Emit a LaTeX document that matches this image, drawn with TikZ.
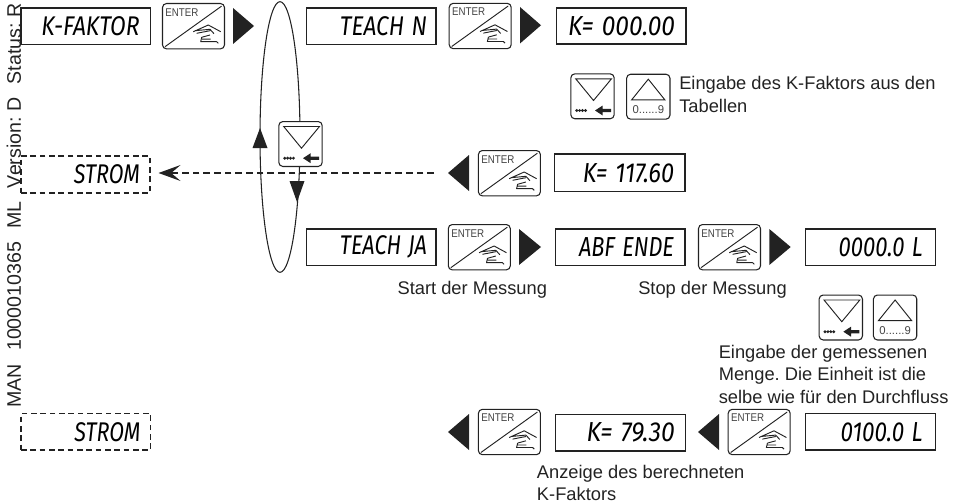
\documentclass[tikz,border=0pt]{standalone}
\usepackage{fontspec}
\setmainfont{Liberation Sans}
\newfontfamily\lcd{Fira Sans}
\usetikzlibrary{arrows.meta,shapes.geometric}
\definecolor{ink}{HTML}{222222}
\definecolor{soft}{HTML}{444444}
\newlength\pxu \setlength\pxu{0.75pt}
\frenchspacing
\tikzset{
  lcdframe/.style={draw=ink,line width=0.8pt,fill=white,inner ysep=0pt,align=right},
  lcddash/.style={lcdframe,dash pattern=on 4.2pt off 2.8pt},
  keyframe/.style={draw=ink,line width=0.8pt,fill=white,rounded corners=3pt,inner sep=0pt},
  keyline/.style={draw=ink,line width=0.7pt},
  keylabel/.style={inner sep=0pt,text=soft,font=\fontsize{8.5pt}{9pt}\selectfont},
  body/.style={inner sep=0pt,anchor=base west,align=left,text=ink,font=\fontsize{13.72pt}{16.6pt}\selectfont},
  flow/.style={fill=ink}
}
% [style], name, x1, y1, x2, y2, text width, right pad, text
\newcommand\lcdbox[9][lcdframe]{%
  \node[#1,minimum width={(#5-#3)*0.75pt},minimum height={(#6-#4)*0.75pt},
        text width={(#5-#3-2*#8)*0.75pt},inner xsep={#8*0.75pt}]
    (#2) at ({(#3+#5)/2},{(#4+#6)/2})
    {\resizebox{#7\pxu}{14.2pt}{\lcd\itshape #9}};}
% name, centre x, centre y
\newcommand\enterkey[3]{%
  \node[keyframe,minimum width=46.5pt,minimum height=34pt] (#1) at (#2,#3) {};
  \begin{scope}[shift={(#2,#3)}]
    \draw[keyline] (-28.5,20.5) -- (28,-20);
    \node[keylabel,anchor=west] (#1t) at (-28.3,-14) {\resizebox{33\pxu}{5.8pt}{ENTER}};
    \draw[keyline,line join=round]
      (-0.2,5.5) -- (14.8,-1.2) -- (27.2,5.5)
      (1.5,4.5) -- (16.5,3.1) -- (20.5,7.5)
      (3.2,7.1) -- (16.5,4.5)
      (8.2,11.1) -- (16.5,8.8)
      (8.2,11.1) -- (7.2,15.5) -- (23.2,15.5) -- (24.8,17.1)
      (8.5,13) -- (17,13);
  \end{scope}}
% name, centre x, centre y
\newcommand\downkey[3]{%
  \node[keyframe,minimum width=32.5pt,minimum height=33.7pt] (#1) at (#2,#3) {};
  \begin{scope}[shift={(#2,#3)}]
    \draw[keyline] (-16.8,-17.5) -- (19,-17.5) -- (1,4.2) -- cycle;
    \fill[ink] (-15.8,14.2) circle (1.6) (-12.9,14.2) circle (1.6)
      (-10,14.2) circle (1.6) (-7.1,14.2) circle (1.6);
    \fill[ink] (2.5,14.2) -- (10.2,9.2) -- (10.2,12.6) -- (18.5,12.6)
      -- (18.5,15.8) -- (10.2,15.8) -- (10.2,19.2) -- cycle;
  \end{scope}}
\newcommand\upkey[3]{%
  \node[keyframe,minimum width=32.5pt,minimum height=33.7pt] (#1) at (#2,#3) {};
  \begin{scope}[shift={(#2,#3)}]
    \draw[keyline] (-16.7,3.2) -- (16.6,3.2) -- (0,-17.5) -- cycle;
    \node[keylabel] (#1t) at (0,13.2) {0......9};
  \end{scope}}
\newcommand\rtri[4]{\fill[flow] (#1,#3) -- (#2,{(#3+#4)/2}) -- (#1,#4) -- cycle;}
\newcommand\ltri[4]{\fill[flow] (#2,#3) -- (#1,{(#3+#4)/2}) -- (#2,#4) -- cycle;}
\begin{document}
\begin{tikzpicture}[x=0.75pt,y=-0.75pt]
\useasboundingbox (0,0) rectangle (963,503);
\node[inner sep=0pt,rotate=90,anchor=base west,text=ink,font=\fontsize{14.7pt}{16pt}\selectfont] (margin) at (21,408)
  {MAN\hspace{10pt}1000010365\hspace{10pt}ML\hspace{10pt}Version: D\hspace{10pt}Status: R};
% loop
\node[draw=ink,line width=0.8pt,ellipse,minimum width=30pt,minimum height=203pt,inner sep=0pt] (loop) at (280,137) {};
\fill[flow] (260,128) -- (267.5,148) -- (252.5,148) -- cycle;
\fill[flow] (297,202) -- (304.5,181) -- (289.5,181) -- cycle;
\downkey{kloop}{300.5}{144}
% row 1
\lcdbox{kfaktor}{21}{8}{150.5}{44.5}{98}{11}{K-FAKTOR}
\enterkey{e1}{193.5}{26.2}
\rtri{233}{254}{8}{44}
\lcdbox{teachn}{306.5}{8}{436}{44.5}{87}{9}{TEACH N}
\enterkey{e2}{480.2}{26}
\rtri{520}{541}{7}{43.5}
\lcdbox{kzero}{556.3}{8}{686}{44}{107}{11}{K= 000.00}
% keys row
\downkey{d1}{592.5}{96.3}
\upkey{u1}{648.3}{96.7}
\node[body] (t1) at (679,112) {Eingabe des K-Faktors aus den\\Tabellen};
% row 2
\lcdbox[lcddash]{stroma}{21}{156}{150}{193}{66}{10}{STROM}
\coordinate (dashstart) at (434,173);
\ltri{448}{469}{155}{191}
\enterkey{e3}{509.4}{173.2}
\lcdbox{ksmall}{554.3}{154}{685}{191.5}{91}{11}{K= 117.60}
\draw[ink,line width=0.8pt,dash pattern=on 5pt off 3pt,-{Stealth[length=16.5pt,width=12pt,inset=7pt]}]
  (dashstart) -- ([xshift=6pt]dashstart -| stroma.east);
% row 3
\lcdbox{teachj}{306.5}{229}{436}{265.5}{87}{9}{TEACH JA}
\enterkey{e4}{479.3}{247.2}
\rtri{519}{541}{229}{265}
\lcdbox{abf}{555.3}{229}{685}{265.5}{95}{11}{ABF ENDE}
\enterkey{e5}{729.5}{247.2}
\rtri{769.3}{790.7}{229}{265}
\lcdbox{zero}{805.7}{229}{935.7}{265.5}{84}{13}{0000.0 L}
\node[body] (t2) at (397.3,294) {Start der Messung};
\node[body] (t3) at (638,294) {Stop der Messung};
\downkey{d2}{840.8}{317.5}
\upkey{u2}{895.1}{317.5}
\node[body] (t4) at (718.5,403) {Eingabe der gemessenen\\Menge. Die Einheit ist die\\selbe wie für den Durchfluss};
% row 4
\lcdbox[lcddash]{stromb}{21}{413.5}{150.5}{450}{66}{10}{STROM}
\ltri{448}{469}{414}{450}
\enterkey{e6}{509.4}{432}
\lcdbox{kseven}{555.3}{414.3}{685.7}{451}{88}{11}{K= 79.30}
\ltri{698}{719}{414}{450}
\enterkey{e7}{759.2}{432}
\lcdbox{hundred}{805.7}{413.7}{935.7}{450}{82}{13}{0100.0 L}
\node[body] (t5) at (536.7,500.8) {Anzeige des berechneten\\K-Faktors};
\end{tikzpicture}
\end{document}
